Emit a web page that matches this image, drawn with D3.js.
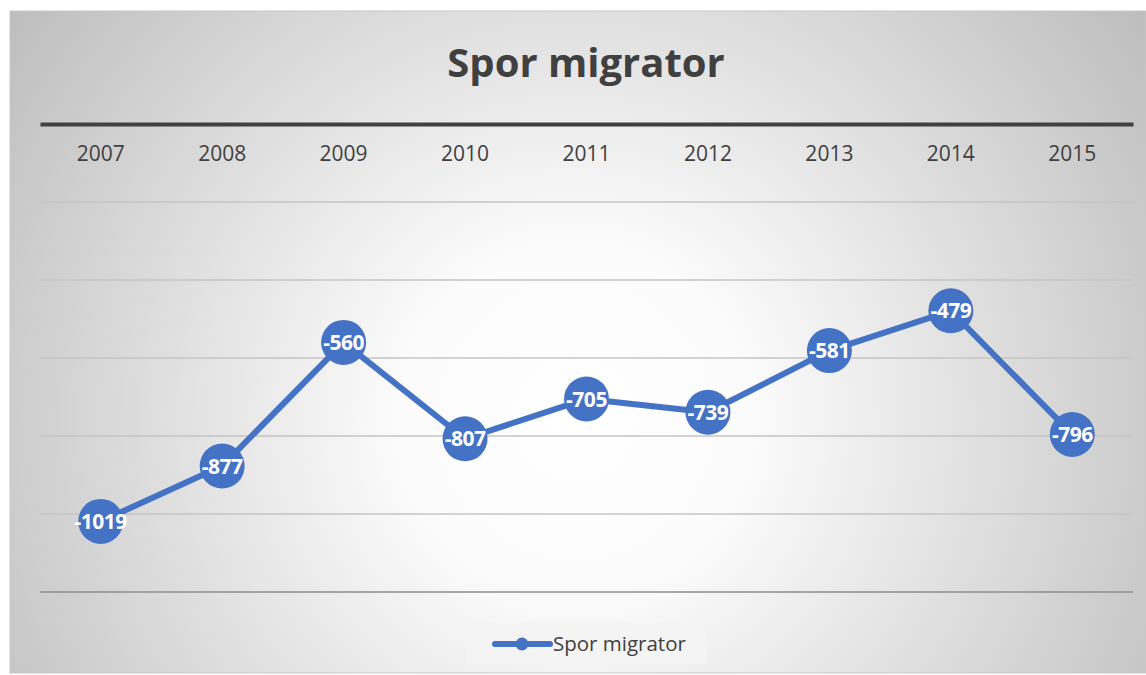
<!DOCTYPE html>
<html>
<head>
<meta charset="utf-8">
<script src="https://cdn.jsdelivr.net/npm/d3@7"></script>
<style>
  body { margin: 0; background: #fff; }
  svg { display: block; font-family: "Open Sans", Lato, sans-serif; }
</style>
</head>
<body>
<svg width="1146" height="675"></svg>
<script>
const years = ["2007", "2008", "2009", "2010", "2011", "2012", "2013", "2014", "2015"]
const values = [-1019, -877, -560, -807, -705, -739, -581, -479, -796]
const gridTicks = [-200, -400, -600, -800, -1000, -1200]
const seriesName = "Spor migrator"

const svg = d3.select("svg"),
    width = +svg.attr("width"),
    height = +svg.attr("height");

const blue = "#4472c4"

// background gradient
const defs = svg.append("defs")
const grad = defs.append("radialGradient")
    .attr("id", "bg")
    .attr("gradientUnits", "userSpaceOnUse")
    .attr("cx", 575).attr("cy", 420).attr("r", 700)
grad.append("stop").attr("offset", "0%").attr("stop-color", "#ffffff")
grad.append("stop").attr("offset", "25%").attr("stop-color", "#fbfbfb")
grad.append("stop").attr("offset", "100%").attr("stop-color", "#bdbdbd")

svg.append("rect")
    .attr("x", 10).attr("y", 11)
    .attr("width", width - 10).attr("height", height - 13)
    .attr("fill", "url(#bg)")
    .attr("stroke", "#c8c8c8")

svg.append("text")
    .attr("x", 586).attr("y", 77)
    .attr("text-anchor", "middle")
    .attr("font-size", 40)
    .attr("font-weight", "bold")
    .attr("fill", "#404040")
    .text(seriesName)

const x = d3.scaleBand()
    .domain(years)
    .range([40, 1133])

const y = d3.scaleLinear()
    .domain([0, -1200])
    .range([124, 592])

// gridlines
svg.append("g").selectAll("line")
    .data(gridTicks)
    .enter()
    .append("line")
    .attr("x1", 40).attr("x2", 1133)
    .attr("y1", d => y(d)).attr("y2", d => y(d))
    .attr("stroke", d => d === -1200 ? "#8c8c8c" : "#c4c4c4")
    .attr("stroke-width", 1.3)

// category axis at zero, labels below
const xAxis = svg.append("g")
    .attr("transform", `translate(0,${y(0)})`)
    .call(d3.axisBottom(x).tickSize(0).tickPadding(22))
xAxis.select(".domain")
    .attr("stroke", "#404040")
    .attr("stroke-width", 4)
xAxis.selectAll("text")
    .attr("font-size", 21)
    .attr("font-family", "'Open Sans', sans-serif")
    .attr("fill", "#404040")

const cx = d => x(d) + x.bandwidth() / 2
const pts = years.map((yr, i) => ({ yr, v: values[i] }))

const line = d3.line()
    .x(d => cx(d.yr))
    .y(d => y(d.v))

svg.append("path")
    .datum(pts)
    .attr("d", line)
    .attr("fill", "none")
    .attr("stroke", blue)
    .attr("stroke-width", 6)
    .attr("stroke-linejoin", "round")

const marks = svg.append("g").selectAll("g")
    .data(pts)
    .enter()
    .append("g")
    .attr("transform", d => `translate(${cx(d.yr)},${y(d.v)})`)

marks.append("circle")
    .attr("r", 22.5)
    .attr("fill", blue)

marks.append("text")
    .attr("text-anchor", "middle")
    .attr("dy", "0.36em")
    .attr("font-size", 21)
    .attr("font-weight", "bold")
    .attr("letter-spacing", -0.5)
    .attr("fill", "#fff")
    .text(d => d.v)

// legend
const lg = svg.append("g").attr("transform", "translate(467,622)")
lg.append("rect")
    .attr("width", 240).attr("height", 42)
    .attr("fill", "#f4f4f4")
lg.append("line")
    .attr("x1", 28).attr("x2", 83)
    .attr("y1", 22).attr("y2", 22)
    .attr("stroke", blue).attr("stroke-width", 6)
    .attr("stroke-linecap", "round")
lg.append("circle")
    .attr("cx", 55).attr("cy", 22).attr("r", 6.5)
    .attr("fill", blue)
lg.append("text")
    .attr("x", 86).attr("y", 29)
    .attr("font-size", 20.5)
    .attr("fill", "#404040")
    .text(seriesName)
</script>
</body>
</html>
